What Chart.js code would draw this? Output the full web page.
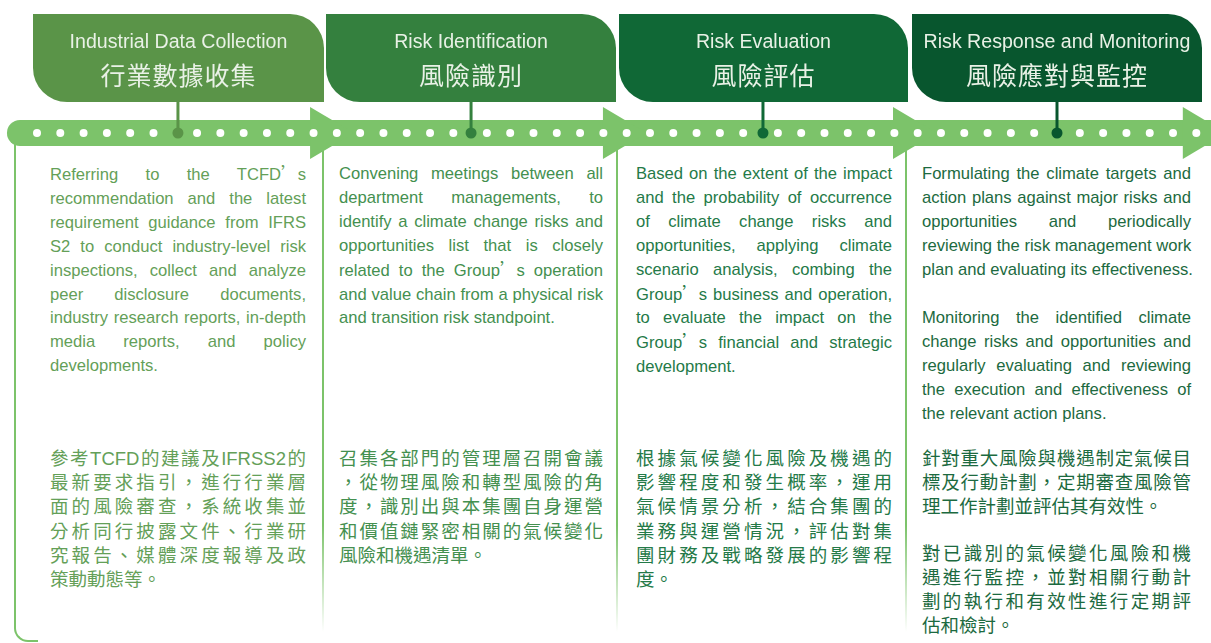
<!DOCTYPE html>
<html>
<head>
<meta charset="utf-8">
<script src="https://cdn.jsdelivr.net/npm/chart.js@4/dist/chart.umd.min.js"></script>
<style>
  html, body { margin: 0; padding: 0; background: #fff; }
  body { width: 1211px; height: 643px; position: relative; overflow: hidden;
         font-family: "Liberation Sans", Arial, "Noto Sans CJK TC", sans-serif; }
  .box { position: absolute; top: 14px; height: 88px; border-radius: 0 34px 0 34px; z-index: 2; color: #e9f1e6; text-align: center; }
  .box .en { position: absolute; left: 0; right: 0; top: 16px; font-size: 19.6px; line-height: 22px; white-space: nowrap; }
  .box .zh { position: absolute; left: 0; right: 0; top: 46px; font-size: 25px; line-height: 28px; letter-spacing: 1px;
             font-family: "Noto Sans CJK TC", sans-serif; white-space: nowrap; }
  #timeline { position: absolute; left: 0; top: 95px; width: 1211px; height: 76px; z-index: 1; }
  .sep { position: absolute; top: 146px; width: 2px; height: 486px;
         background: linear-gradient(#7cc36a 0%, #7cc36a 78%, rgba(124,195,106,0) 100%); }
  .frame { position: absolute; left: 14px; top: 140px; width: 22px; height: 500px;
           border-left: 2px solid #7cc36a; border-bottom: 2px solid #7cc36a; border-bottom-left-radius: 14px; }
  .col { position: absolute; }
  .col .line { white-space: nowrap; text-align: justify; text-align-last: justify; }
  .col .line.last { text-align-last: left; }
  .en-block { font-size: 16.6px; line-height: 23.9px; }
  .zh-block { font-size: 18.5px; line-height: 24.2px; font-family: "Liberation Sans", "Noto Sans CJK TC", sans-serif; }
  .gap-en { height: 24.5px; }
  .gap-zh { height: 22px; }
  .q { font-family: "Noto Sans CJK TC", sans-serif; }
</style>
</head>
<body>

<div class="frame"></div>
<div class="sep" style="left:322px"></div>
<div class="sep" style="left:616px"></div>
<div class="sep" style="left:905px"></div>

<div id="boxes"></div>

<div id="timeline"><canvas id="timelineChart" width="1211" height="76"></canvas></div>

<div id="columns"></div>

<script>
// Stages
const stageNames = ['Industrial Data Collection', 'Risk Identification', 'Risk Evaluation', 'Risk Response and Monitoring'];
const stageNamesZh = ['行業數據收集', '風險識別', '風險評估', '風險應對與監控'];
const stageColors = ['#5a9448', '#34803e', '#106836', '#08562e'];
const textColors = ['#64a058', '#44904f', '#247a48', '#1c6a40'];

// Timeline, in dot steps along the arrow
const stageDotPositions = [6.05, 18.63, 31.16, 43.78];
const arrowBases = [11.72, 24.29, 36.74, 49.18];
const dotRunStarts = [0, 6.87, 19.31, 31.8, 44.76];
const dotRunCounts = [6, 12, 12, 12, 6];
const bandStart = -1.29;

// Text of each column, one entry per line as set in the original
const col1En = ['Referring to the TCFD<span class="q">’</span>s', 'recommendation and the latest', 'requirement guidance from IFRS',
  'S2 to conduct industry-level risk', 'inspections, collect and analyze', 'peer disclosure documents,',
  'industry research reports, in-depth', 'media reports, and policy', 'developments.'];
const col1Zh = ['參考TCFD的建議及IFRSS2的', '最新要求指引，進行行業層', '面的風險審查，系統收集並',
  '分析同行披露文件、行業研', '究報告、媒體深度報導及政', '策動動態等。'];

const col2En = ['Convening meetings between all', 'department managements, to', 'identify a climate change risks and',
  'opportunities list that is closely', 'related to the Group<span class="q">’</span>s operation',
  'and value chain from a physical risk', 'and transition risk standpoint.'];
const col2Zh = ['召集各部門的管理層召開會議', '，從物理風險和轉型風險的角', '度，識別出與本集團自身運營',
  '和價值鏈緊密相關的氣候變化', '風險和機遇清單。'];

const col3En = ['Based on the extent of the impact', 'and the probability of occurrence', 'of climate change risks and',
  'opportunities, applying climate', 'scenario analysis, combing the', 'Group<span class="q">’</span>s business and operation,',
  'to evaluate the impact on the', 'Group<span class="q">’</span>s financial and strategic', 'development.'];
const col3Zh = ['根據氣候變化風險及機遇的', '影響程度和發生概率，運用', '氣候情景分析，結合集團的',
  '業務與運營情況，評估對集', '團財務及戰略發展的影響程', '度。'];

const col4En1 = ['Formulating the climate targets and', 'action plans against major risks and', 'opportunities and periodically',
  'reviewing the risk management work', 'plan and evaluating its effectiveness.'];
const col4En2 = ['Monitoring the identified climate', 'change risks and opportunities and', 'regularly evaluating and reviewing',
  'the execution and effectiveness of', 'the relevant action plans.'];
const col4Zh1 = ['針對重大風險與機遇制定氣候目', '標及行動計劃，定期審查風險管', '理工作計劃並評估其有效性。'];
const col4Zh2 = ['對已識別的氣候變化風險和機', '遇進行監控，並對相關行動計', '劃的執行和有效性進行定期評', '估和檢討。'];


// Header boxes
const boxLayout = [[33, 291], [326, 290], [619, 289], [912, 290]];
const boxes = document.getElementById('boxes');
stageNames.forEach((name, i) => {
  const box = document.createElement('div');
  box.className = 'box';
  box.style.left = boxLayout[i][0] + 'px';
  box.style.width = boxLayout[i][1] + 'px';
  box.style.background = stageColors[i];
  box.innerHTML = '<div class="en">' + name + '</div><div class="zh">' + stageNamesZh[i] + '</div>';
  boxes.appendChild(box);
});


// Text columns: [left, width, english paragraphs, chinese paragraphs]
const columns = [
  [50, 256, [col1En], [col1Zh]],
  [339, 264, [col2En], [col2Zh]],
  [636, 256, [col3En], [col3Zh]],
  [922, 269, [col4En1, col4En2], [col4Zh1, col4Zh2]]
];

function paragraphs(paras, gapCls) {
  return paras.map(lines => lines.map((l, j) =>
    '<div class="line' + (j == lines.length - 1 ? ' last' : '') + '">' + l + '</div>').join('')
  ).join('<div class="' + gapCls + '"></div>');
}

const cols = document.getElementById('columns');
columns.forEach((c, i) => {
  const en = document.createElement('div');
  en.className = 'col en-block';
  en.style.cssText = 'left:' + c[0] + 'px;width:' + c[1] + 'px;top:162px;color:' + textColors[i];
  en.innerHTML = paragraphs(c[2], 'gap-en');
  cols.appendChild(en);

  const zh = document.createElement('div');
  zh.className = 'col zh-block';
  zh.style.cssText = 'left:' + c[0] + 'px;width:' + c[1] + 'px;top:447px;color:' + textColors[i];
  zh.innerHTML = paragraphs(c[3], 'gap-zh');
  cols.appendChild(zh);
});


// Draw the arrow band, its heads and the stage connectors under the dots
const timelineBand = {
  id: 'timelineBand',
  beforeDatasetsDraw(chart, args, opts) {
    const {ctx, scales: {x, y}} = chart;
    const cy = y.getPixelForValue(0);
    const h = opts.halfHeight;
    const x0 = x.getPixelForValue(bandStart);
    ctx.save();
    ctx.fillStyle = opts.color;
    ctx.beginPath();
    ctx.moveTo(chart.width, cy - h);
    ctx.lineTo(x0 + h, cy - h);
    ctx.arc(x0 + h, cy, h, -Math.PI / 2, Math.PI / 2, true);
    ctx.lineTo(chart.width, cy + h);
    ctx.closePath();
    ctx.fill();

    arrowBases.forEach(u => {
      const bx = x.getPixelForValue(u);
      ctx.beginPath();
      ctx.moveTo(bx, cy - opts.headHalf);
      ctx.lineTo(bx + opts.headLength, cy);
      ctx.lineTo(bx, cy + opts.headHalf);
      ctx.closePath();
      ctx.fill();
    });

    ctx.lineWidth = 3;
    stageDotPositions.forEach((u, i) => {
      const px = x.getPixelForValue(u);
      ctx.strokeStyle = stageColors[i];
      ctx.beginPath();
      ctx.moveTo(px, 0);
      ctx.lineTo(px, cy);
      ctx.stroke();
    });
    ctx.restore();
  }
};

// White dots, run by run
const whiteDots = [];
dotRunStarts.forEach((start, i) => {
  for (let k = 0; k < dotRunCounts[i]; k++) {
    whiteDots.push({x: start + k, y: 0});
  }
});

new Chart(document.getElementById('timelineChart').getContext('2d'), {
  type: 'scatter',
  data: {
    datasets: [
      {
        label: 'Stages',
        data: stageDotPositions.map(v => ({x: v, y: 0})),
        pointRadius: 5.5,
        pointBackgroundColor: stageColors,
        pointBorderWidth: 0,
        clip: false
      },
      {
        label: 'Dots',
        data: whiteDots,
        pointRadius: 4,
        pointBackgroundColor: '#ffffff',
        pointBorderWidth: 0,
        clip: false
      }
    ]
  },
  options: {
    responsive: false,
    animation: false,
    events: [],
    layout: {padding: 0, autoPadding: false},
    scales: {
      x: {type: 'linear', min: -1.588, max: 50.39, display: false},
      y: {min: -1, max: 1, display: false}
    },
    plugins: {
      legend: {display: false},
      tooltip: {enabled: false},
      timelineBand: {color: '#7cc36a', halfHeight: 13, headHalf: 26, headLength: 44}
    }
  },
  plugins: [timelineBand]
});
</script>
</body>
</html>
